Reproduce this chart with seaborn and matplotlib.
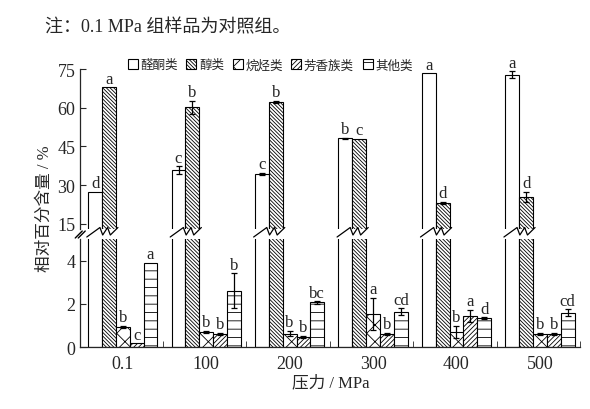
import numpy as np
import pandas as pd
import matplotlib
matplotlib.use('Agg')
import matplotlib.pyplot as plt
import matplotlib.transforms as mtransforms
from matplotlib.patches import Patch
import seaborn as sns

groups = ['0.1', '100', '200', '300', '400', '500']
categories = ['醛酮类', '醇类', '烷烃类', '芳香族类', '其他类']

aldehyde = [27.4, 35.8, 34.4, 48.1, 73.4, 72.8]
aldehyde_err = [0, 1.5, 0.5, 0.3, 0, 1.3]
alcohol = [67.9, 60.2, 62.4, 48.0, 23.1, 25.4]
alcohol_err = [0, 2.5, 0.4, 0, 0.3, 2.0]
alkane = [0.92, 0.70, 0.62, 1.52, 0.70, 0.60]
alkane_err = [0.05, 0.05, 0.12, 0.75, 0.30, 0.05]
aromatic = [0.17, 0.60, 0.47, 0.60, 1.45, 0.60]
aromatic_err = [0, 0.05, 0.05, 0.05, 0.28, 0.05]
other = [3.90, 2.62, 2.07, 1.65, 1.33, 1.60]
other_err = [0, 0.80, 0.05, 0.15, 0.05, 0.15]

aldehyde_sig = ['d', 'c', 'c', 'b', 'a', 'a']
alcohol_sig = ['a', 'b', 'b', 'c', 'd', 'd']
alkane_sig = ['b', 'b', 'b', 'a', 'b', 'b']
aromatic_sig = ['c', 'b', 'b', 'b', 'a', 'b']
other_sig = ['a', 'b', 'bc', 'cd', 'd', 'cd']

values = [aldehyde, alcohol, alkane, aromatic, other]
errors = [aldehyde_err, alcohol_err, alkane_err, aromatic_err, other_err]
sigs = [aldehyde_sig, alcohol_sig, alkane_sig, aromatic_sig, other_sig]
hatches = ['', '\\' * 9, 'xx', '/' * 7, '--']

rows = []
for cat, vals in zip(categories, values):
    for g, v in zip(groups, vals):
        rows.append({'压力': g, '类别': cat, '值': v})
df = pd.DataFrame(rows)

sns.set_style('ticks')
plt.rcParams['font.family'] = ['Liberation Serif', 'Noto Sans CJK SC']
plt.rcParams['hatch.linewidth'] = 0.6
plt.rcParams['axes.linewidth'] = 0.9

fig = plt.figure(figsize=(5.9, 4.1), dpi=100)
ax_top = fig.add_axes([0.136, 0.439, 0.847, 0.390])
ax_bot = fig.add_axes([0.136, 0.151, 0.847, 0.263])

for ax in (ax_top, ax_bot):
    sns.barplot(data=df, x='压力', y='值', hue='类别', order=groups,
                hue_order=categories, errorbar=None, width=0.83,
                palette=['white'] * 5, edgecolor='black', linewidth=0.8,
                saturation=1, legend=False, ax=ax)
    for cont, h in zip(ax.containers, hatches):
        for p in cont:
            p.set_hatch(h)
            p.set_facecolor('white')
            p.set_edgecolor('black')
    ax.set_xlim(-0.51, 5.48)
    ax.set_xlabel('')
    ax.set_ylabel('')
    sns.despine(ax=ax)

# error bars and significance letters
for ax, idxs in ((ax_top, [0, 1]), (ax_bot, [2, 3, 4])):
    for i in idxs:
        cont = ax.containers[i]
        xs = np.array([p.get_x() + p.get_width() / 2 for p in cont])
        v = np.array(values[i])
        e = np.array(errors[i])
        m = e > 0
        ax.errorbar(xs[m], v[m], yerr=e[m], fmt='none', ecolor='black',
                    elinewidth=0.9, capsize=2.5, capthick=0.9)
        for x, yy, ee, s in zip(xs, v, e, sigs[i]):
            ax.annotate(s, (x, yy + ee), xytext=(0, 0.5), textcoords='offset points',
                        ha='center', va='bottom', fontsize=12)

ax_top.set_ylim(13, 75)
ax_top.set_yticks([15, 30, 45, 60, 75])
ax_top.spines['bottom'].set_visible(False)
ax_top.tick_params(axis='x', bottom=False, labelbottom=False)
ax_top.tick_params(axis='y', direction='in', length=4, labelsize=13)

ax_bot.set_ylim(0, 5)
ax_bot.set_yticks([0, 2, 4])
ax_bot.tick_params(axis='y', direction='in', length=4, labelsize=13)
ax_bot.tick_params(axis='x', which='major', length=0, labelsize=13, pad=6)
ax_bot.set_xticks(np.arange(len(groups)) + 0.48, minor=True)
ax_bot.tick_params(axis='x', which='minor', direction='in', length=4)

# break marks on the tall bars
trans = mtransforms.blended_transform_factory(ax_top.transData, ax_top.transAxes)
px = 1 / 160
for p in ax_top.containers[0]:
    L = p.get_x()
    W = p.get_width()
    xz = [L - 0.1 * W, L + 0.85 * W, L + 1.05 * W, L + 1.4 * W, L + 1.6 * W, L + 2.15 * W]
    yz = [-8 * px, 1.5 * px, -6 * px, 1.5 * px, -6 * px, 1.5 * px]
    ax_top.plot(xz, yz, color='black', lw=0.9, transform=trans, clip_on=False)

# break mark on the y axis
for dx in (0, 0.006):
    ax_top.plot([-0.01 + dx, 0.004 + dx], [-9 * px, -2 * px], color='black', lw=1.0,
                transform=ax_top.transAxes, clip_on=False)

handles = [Patch(facecolor='white', edgecolor='black', hatch=h, linewidth=0.8)
           for h in hatches]
ax_top.legend(handles, categories, loc='center', bbox_to_anchor=(0.38, 1.025),
              ncol=5, frameon=False, fontsize=9, handlelength=0.8, handleheight=0.8,
              handletextpad=0.2, columnspacing=0.7, borderpad=0)

fig.text(0.076, 0.49, '相对百分含量 / %', rotation=90, ha='center', va='center',
         fontsize=12)
fig.text(0.56, 0.066, '压力 / MPa', ha='center', va='center', fontsize=12)
fig.text(0.076, 0.932, '注：0.1 MPa 组样品为对照组。', ha='left', va='center', fontsize=13)

fig.savefig('out.png', dpi=100)
